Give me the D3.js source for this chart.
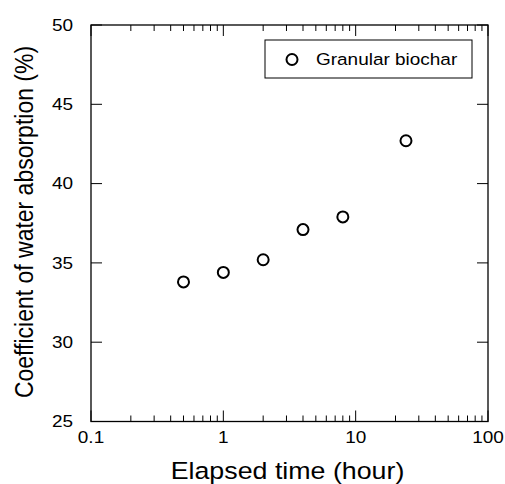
<!DOCTYPE html>
<html>
<head>
<meta charset="utf-8">
<script src="https://cdn.jsdelivr.net/npm/d3@7"></script>
<style>
  body { margin: 0; background: #fff; }
  svg { display: block; font-family: "Liberation Sans", Arial, sans-serif; }
</style>
</head>
<body>
<svg width="505" height="484"></svg>
<script>
const hours = [0.5, 1, 2, 4, 8, 24];
const absorption = [33.8, 34.4, 35.2, 37.1, 37.9, 42.7];
const xTicks = [0.1, 1, 10, 100];
const yTicks = [25, 30, 35, 40, 45, 50];
const seriesName = 'Granular biochar';

const svg = d3.select('svg');
const plotL = 91, plotR = 488, plotT = 25, plotB = 421.5;
const stretch = 1.15; // the original text is a bit wider than it is tall

const x = d3.scaleLog().domain([0.1, 100]).range([plotL, plotR]);
const y = d3.scaleLinear().domain([25, 50]).range([plotB, plotT]);

// minor ticks for log axis
const minor = [];
for (let d = 0.1; d < 100; d *= 10) {
  for (let k = 2; k <= 9; k++) minor.push(+(d * k).toPrecision(3));
}

svg.append('rect')
  .attr('x', plotL).attr('y', plotT)
  .attr('width', plotR - plotL).attr('height', plotB - plotT)
  .attr('fill', 'none').attr('stroke', '#000').attr('stroke-width', 1.3);

const tickG = svg.append('g').attr('stroke', '#000').attr('stroke-width', 1);
const major = 11, small = 6;

// x ticks, bottom and top, inward
xTicks.forEach((v) => {
  tickG.append('line').attr('x1', x(v)).attr('x2', x(v)).attr('y1', plotB).attr('y2', plotB - major);
  tickG.append('line').attr('x1', x(v)).attr('x2', x(v)).attr('y1', plotT).attr('y2', plotT + major);
});
minor.forEach((v) => {
  tickG.append('line').attr('x1', x(v)).attr('x2', x(v)).attr('y1', plotB).attr('y2', plotB - small);
  tickG.append('line').attr('x1', x(v)).attr('x2', x(v)).attr('y1', plotT).attr('y2', plotT + small);
});
yTicks.forEach((v) => {
  tickG.append('line').attr('x1', plotL).attr('x2', plotL + major).attr('y1', y(v)).attr('y2', y(v));
  tickG.append('line').attr('x1', plotR).attr('x2', plotR - major).attr('y1', y(v)).attr('y2', y(v));
});

// tick labels
svg.append('g').selectAll('text')
  .data(xTicks)
  .enter()
  .append('text')
  .attr('transform', (d) => `translate(${x(d)},443) scale(${stretch},1)`)
  .attr('text-anchor', 'middle')
  .attr('font-size', 16.5)
  .text((d) => d);

svg.append('g').selectAll('text')
  .data(yTicks)
  .enter()
  .append('text')
  .attr('transform', (d) => `translate(73,${y(d)}) scale(${stretch},1)`)
  .attr('dy', '0.35em')
  .attr('text-anchor', 'end')
  .attr('font-size', 16.5)
  .text((d) => d);

// axis titles
svg.append('text')
  .attr('transform', `translate(287.5,479) scale(${stretch},1)`)
  .attr('text-anchor', 'middle')
  .attr('font-size', 23.3)
  .text('Elapsed time (hour)');

svg.append('text')
  .attr('transform', `translate(32.5,222) scale(${stretch},1) rotate(-90)`)
  .attr('text-anchor', 'middle')
  .attr('font-size', 23)
  .text('Coefficient of water absorption (%)');

// points
svg.append('g').selectAll('circle')
  .data(hours.map((h, i) => ({h, v: absorption[i]})))
  .enter()
  .append('circle')
  .attr('cx', (d) => x(d.h))
  .attr('cy', (d) => y(d.v))
  .attr('r', 5.5)
  .attr('fill', '#fff')
  .attr('stroke', '#000')
  .attr('stroke-width', 2);

// legend
const legend = svg.append('g');
legend.append('rect')
  .attr('x', 265).attr('y', 40)
  .attr('width', 207).attr('height', 38)
  .attr('fill', '#fff').attr('stroke', '#000').attr('stroke-width', 1);
legend.append('circle')
  .attr('cx', 292).attr('cy', 59.5).attr('r', 5.5)
  .attr('fill', '#fff').attr('stroke', '#000').attr('stroke-width', 2);
legend.append('text')
  .attr('transform', `translate(316,59.5) scale(${stretch},1)`)
  .attr('dy', '0.35em')
  .attr('font-size', 16.5)
  .text(seriesName);
</script>
</body>
</html>
